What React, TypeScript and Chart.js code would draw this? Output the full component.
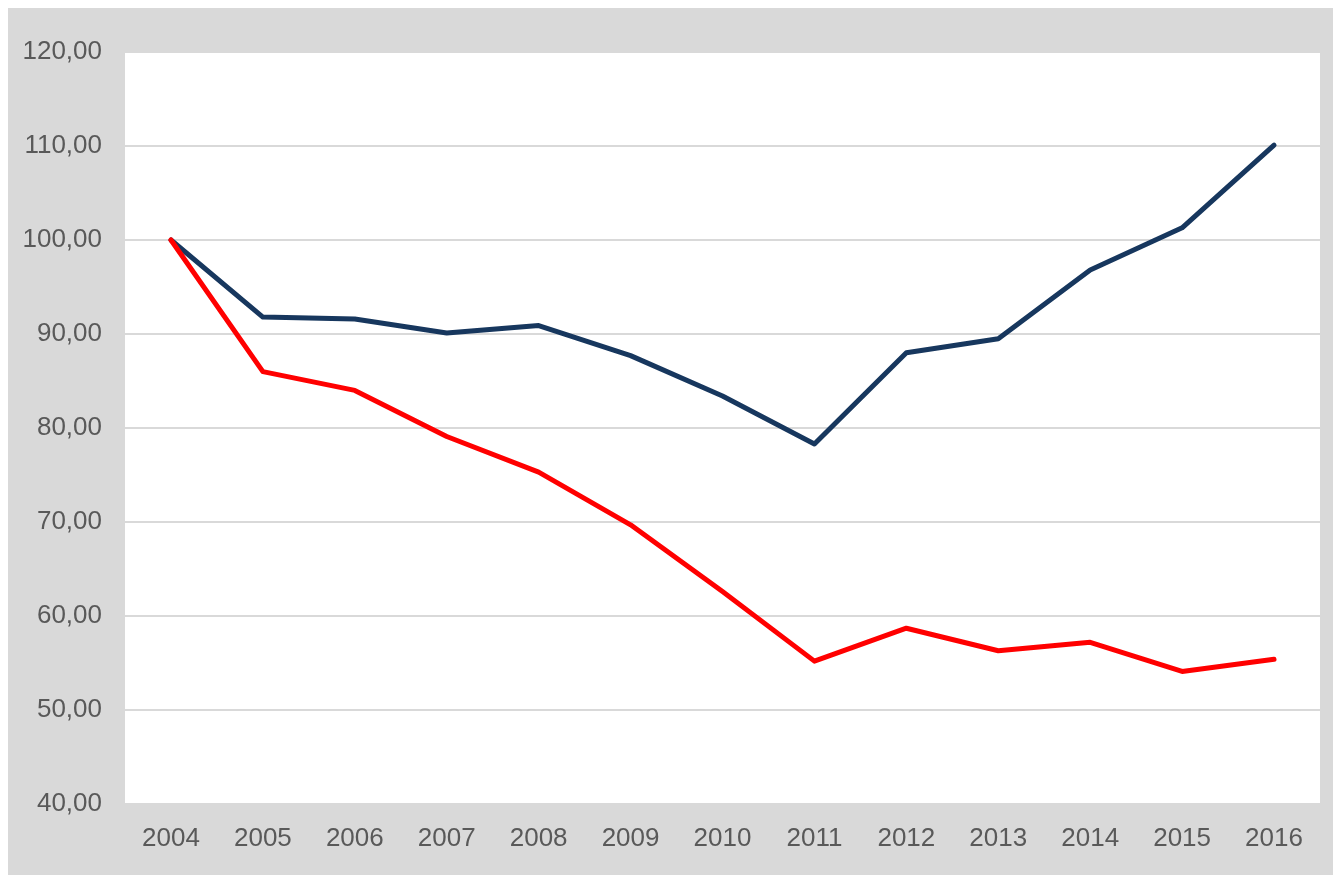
import React, { useEffect, useRef } from "react";
import { Chart, registerables } from "chart.js";

Chart.register(...registerables);

const years = ["2004", "2005", "2006", "2007", "2008", "2009", "2010", "2011", "2012", "2013", "2014", "2015", "2016"];
const blueSeries = [100, 91.8, 91.6, 90.1, 90.9, 87.7, 83.4, 78.3, 88.0, 89.5, 96.8, 101.3, 110.1];
const redSeries = [100, 86.0, 84.0, 79.1, 75.3, 69.7, 62.6, 55.2, 58.7, 56.3, 57.2, 54.1, 55.4];
const yMin = 40;
const yMax = 120;
const yStep = 10;

const bgPlugin = {
  id: "bgPlugin",
  beforeDraw(chart: any) {
    const { ctx, chartArea } = chart;
    ctx.save();
    ctx.fillStyle = "#d9d9d9";
    ctx.fillRect(0, 0, chart.width, chart.height);
    ctx.fillStyle = "#ffffff";
    ctx.fillRect(chartArea.left, chartArea.top, chartArea.right - chartArea.left, chartArea.bottom - chartArea.top);
    ctx.restore();
  },
};

export default function App() {
  const ref = useRef<HTMLCanvasElement>(null);
  useEffect(() => {
    document.documentElement.style.overflow = "hidden";
    document.body.style.overflow = "hidden";
    const chart = new Chart(ref.current!, {
      type: "line",
      data: {
        labels: years,
        datasets: [
          {
            data: redSeries,
            borderColor: "#ff0000",
            borderWidth: 5,
            pointRadius: 0,
            borderJoinStyle: "round",
            borderCapStyle: "round",
            tension: 0,
          },
          {
            data: blueSeries,
            borderColor: "#17375e",
            borderWidth: 5,
            pointRadius: 0,
            borderJoinStyle: "round",
            borderCapStyle: "round",
            tension: 0,
          },
        ],
      },
      options: {
        animation: false,
        responsive: false,
        layout: { padding: { top: 44, right: 21, left: 0, bottom: 0 } },
        plugins: { legend: { display: false }, tooltip: { enabled: false } },
        scales: {
          x: {
            offset: true,
            grid: { display: false, drawTicks: false },
            border: { display: true, color: "#d9d9d9", width: 2 },
            ticks: {
              color: "#595959",
              font: { family: "'Liberation Sans', Arial, sans-serif", size: 26 },
              padding: 19,
              maxRotation: 0,
              autoSkip: false,
            },
            afterFit: (axis: any) => {
              axis.height = 71;
            },
          },
          y: {
            min: yMin,
            max: yMax,
            grid: { color: "#d9d9d9", lineWidth: 2, drawTicks: false },
            border: { display: false },
            ticks: {
              stepSize: yStep,
              color: "#595959",
              font: { family: "'Liberation Sans', Arial, sans-serif", size: 26 },
              padding: 23,
              callback: (v: any) => Number(v).toFixed(2).replace(".", ","),
            },
            afterFit: (axis: any) => {
              axis.width = 117;
            },
          },
        },
      },
      plugins: [bgPlugin],
    });
    return () => chart.destroy();
  }, []);
  return (
    <div style={{ width: 1333, height: 867 }}>
      <canvas ref={ref} width={1333} height={867} style={{ display: "block" }} />
    </div>
  );
}
